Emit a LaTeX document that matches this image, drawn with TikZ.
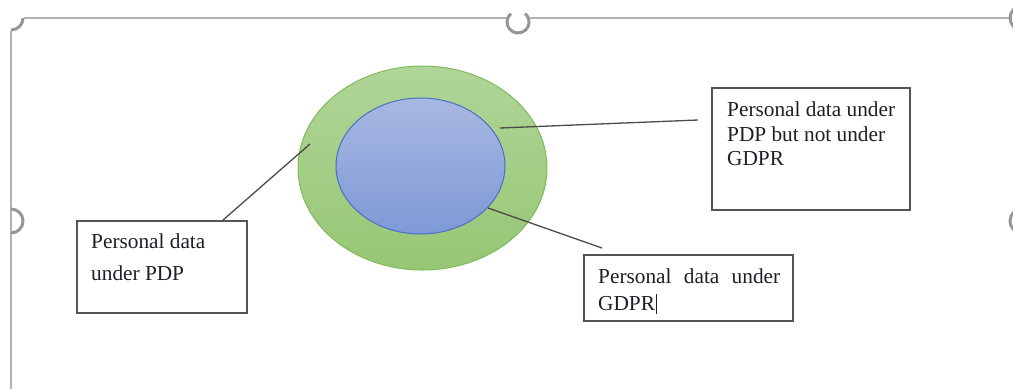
\documentclass[tikz,border=0pt]{standalone}
\usepackage{fontspec}
\setmainfont{Liberation Serif}
\usetikzlibrary{shapes.geometric}
\definecolor{framegray}{RGB}{178,178,178}
\definecolor{handlegray}{RGB}{150,150,150}
\definecolor{greentop}{RGB}{176,213,152}
\definecolor{greenbot}{RGB}{150,199,116}
\definecolor{greenedge}{RGB}{128,186,92}
\definecolor{bluetop}{RGB}{168,184,226}
\definecolor{bluebot}{RGB}{126,153,214}
\definecolor{blueedge}{RGB}{72,112,196}
\definecolor{boxedge}{RGB}{85,85,85}
\definecolor{linkgray}{RGB}{75,75,75}
\definecolor{txt}{RGB}{30,30,40}
\tikzset{
  framel/.style={draw=framegray, line width=2.4pt},
  handle/.style={draw=handlegray, line width=3pt},
  textbox/.style={draw=boxedge, line width=1.4pt, rectangle, inner sep=0pt},
  lbl/.style={anchor=base west, inner sep=0pt, text=txt, font=\fontsize{21.3}{25}\selectfont},
  link/.style={draw=linkgray, line width=1.3pt},
}
\begin{document}
\begin{tikzpicture}[x=1pt,y=-1pt]
\useasboundingbox (0,0) rectangle (1013,389);
% frame of the selected object
\draw[framel] (24,18) -- (508,18);
\draw[framel] (528,18) -- (1012,18);
\draw[framel] (11,31) -- (11,389);
% handles
\begin{scope}
  \clip (11,18) rectangle (40,40);
  \draw[handle] (11,18) circle[radius=12pt];
\end{scope}
\coordinate (hc) at (518,22);
\draw[handle] (hc) ++(130:11pt) arc[start angle=130, end angle=410, radius=11pt];
\begin{scope}
  \clip (11,200) rectangle (40,245);
  \draw[handle] (11,221) circle[radius=12pt];
\end{scope}
\draw[handle] (1022,221) circle[radius=12pt];
\draw[handle] (1022,18) circle[radius=12pt];
% ellipses
\node[ellipse, minimum width=249pt, minimum height=204pt, inner sep=0pt,
      top color=greentop, bottom color=greenbot, draw=greenedge, line width=1pt]
      (outer) at (422.5,168) {};
\node[ellipse, minimum width=169pt, minimum height=136pt, inner sep=0pt,
      top color=bluetop, bottom color=bluebot, draw=blueedge, line width=1pt]
      (inner) at (420.5,166) {};
% boxes
\node[textbox, minimum width=170pt, minimum height=92pt] (pdp) at (162,267) {};
\node[textbox, minimum width=209pt, minimum height=66pt] (gdpr) at (688.5,288) {};
\node[textbox, minimum width=198pt, minimum height=122pt] (pdpnot) at (811,149) {};
% texts
\node[lbl] (t1a) at (91,248) {Personal data};
\node[lbl] (t1b) at (91,280) {under PDP};
\node[lbl] (t2a) at (598,283) {\hbox to 182pt{Personal\hfill data\hfill under}};
\node[lbl] (t2b) at (598,310) {GDPR\kern1pt\rule[-4pt]{1pt}{20pt}};
\node[lbl] (t3a) at (727,116.5) {Personal data under};
\node[lbl] (t3b) at (727,141) {PDP but not under};
\node[lbl] (t3c) at (727,165.5) {GDPR};
% connector ends
\coordinate (p1) at (223,220);
\coordinate (q1) at (310,144);
\coordinate (p2) at (698,120);
\coordinate (q2) at (500,128);
\coordinate (p3) at (602,248);
\coordinate (q3) at (488,208);
\draw[link] (p1) -- (q1);
\draw[link] (p2) -- (q2);
\draw[link] (p3) -- (q3);
\end{tikzpicture}
\end{document}
